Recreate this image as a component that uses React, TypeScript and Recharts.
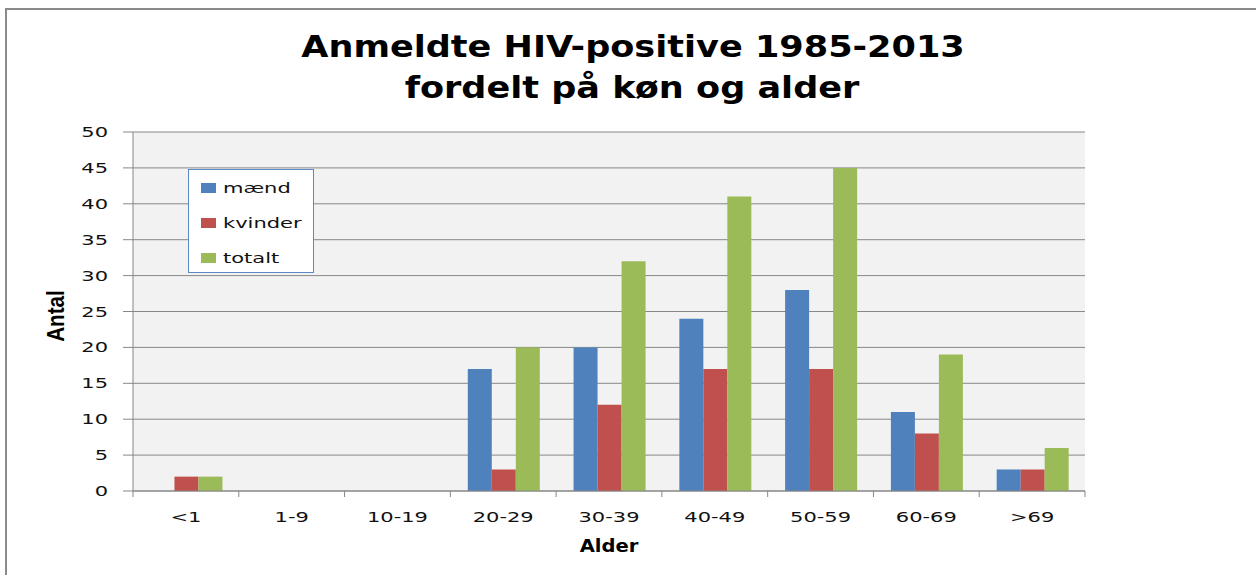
import React from 'react';
import { BarChart, Bar, XAxis, YAxis, CartesianGrid, Legend } from 'recharts';

const categories = ['<1', '1-9', '10-19', '20-29', '30-39', '40-49', '50-59', '60-69', '>69'];
const maend = [0, 0, 0, 17, 20, 24, 28, 11, 3];
const kvinder = [2, 0, 0, 3, 12, 17, 17, 8, 3];
const totalt = [2, 0, 0, 20, 32, 41, 45, 19, 6];
const yTicks = [0, 5, 10, 15, 20, 25, 30, 35, 40, 45, 50];
const seriesNames = ['mænd', 'kvinder', 'totalt'];
const seriesKeys = ['maend', 'kvinder', 'totalt'];
const seriesColors = ['#4F81BD', '#C0504D', '#9BBB59'];
const titleLines = ['Anmeldte HIV-positive 1985-2013', 'fordelt på køn og alder'];

const data = categories.map((c, i) => ({
  cat: c,
  maend: maend[i],
  kvinder: kvinder[i],
  totalt: totalt[i],
}));

const FONT = 'DejaVu Sans, Verdana, sans-serif';
const GRID = '#878787';

const YTick = (props: any) => {
  const { x, y, payload } = props;
  return (
    <g transform={`translate(${x},${y})`}>
      <text x={0} y={0} dy="0.36em" textAnchor="end" transform="scale(1.5,1)" fontFamily={FONT} fontSize={14} fill="#111">
        {payload.value}
      </text>
    </g>
  );
};

const XTick = (props: any) => {
  const { x, y, payload, index, visibleTicksCount } = props;
  const off = Number(payload && payload.offset) || 0;
  const isLast = index === visibleTicksCount - 1;
  return (
    <g>
      <line x1={x - off} x2={x - off} y1={y} y2={y + 6} stroke={GRID} strokeWidth={1} />
      {isLast && <line x1={x + off} x2={x + off} y1={y} y2={y + 6} stroke={GRID} strokeWidth={1} />}
      <g transform={`translate(${x},${y})`}>
        <text x={0} y={0} dy={31} textAnchor="middle" transform="scale(1.5,1)" fontFamily={FONT} fontSize={14} fill="#111">
          {payload.value}
        </text>
      </g>
    </g>
  );
};

const LegendBox = () => (
  <div
    style={{
      width: 126,
      height: 104,
      boxSizing: 'border-box',
      border: '1px solid #5A8AC6',
      background: '#fff',
    }}
  >
    {seriesNames.map((n, i) => (
      <div key={n} style={{ height: 35, display: 'flex', alignItems: 'center' }}>
        <div style={{ width: 15, height: 10, marginLeft: 12, background: seriesColors[i] }} />
        <span
          style={{
            marginLeft: 7,
            fontFamily: FONT,
            fontSize: 14,
            color: '#111',
            display: 'inline-block',
            transform: 'scaleX(1.5)',
            transformOrigin: 'left center',
            whiteSpace: 'nowrap',
          }}
        >
          {n}
        </span>
      </div>
    ))}
  </div>
);

export default function App() {
  return (
    <div style={{ position: 'absolute', left: 0, top: 0, width: 1256, height: 575, background: '#fff', overflow: 'hidden' }}>
      <div
        style={{
          position: 'absolute',
          left: 5,
          top: 8,
          width: 1260,
          height: 580,
          borderLeft: '2px solid #8A8A8A',
          borderTop: '2px solid #8A8A8A',
        }}
      />
      <BarChart
        width={1256}
        height={575}
        data={data}
        margin={{ top: 132, right: 171, bottom: 54, left: 0 }}
        barCategoryGap="16.5%"
        barGap={0}
        style={{ position: 'absolute', left: 0, top: 0 }}
      >
        <CartesianGrid vertical={false} stroke={GRID} fill="#F2F2F2" strokeOpacity={1} />
        <XAxis
          dataKey="cat"
          height={30}
          axisLine={{ stroke: GRID }}
          tickLine={false}
          tickSize={0}
          tickMargin={0}
          interval={0}
          tick={<XTick />}
        />
        <YAxis
          width={133}
          domain={[0, 50]}
          ticks={yTicks}
          interval={0}
          tickSize={10}
          tickMargin={15}
          axisLine={{ stroke: GRID }}
          tickLine={{ stroke: GRID }}
          tick={<YTick />}
        />
        <Legend
          layout="vertical"
          align="center"
          verticalAlign="middle"
          content={<LegendBox />}
          wrapperStyle={{ left: 188, top: 169, width: 126, height: 104 }}
        />
        {seriesKeys.map((k, i) => (
          <Bar key={k} dataKey={k} name={seriesNames[i]} fill={seriesColors[i]} isAnimationActive={false} />
        ))}
      </BarChart>
      <svg width={1256} height={575} style={{ position: 'absolute', left: 0, top: 0, pointerEvents: 'none' }}>
        <text transform="translate(633,57) scale(1.17,1)" textAnchor="middle" fontFamily={FONT} fontWeight="bold" fontSize={30} fill="#000">
          {titleLines[0]}
        </text>
        <text transform="translate(632,98) scale(1.17,1)" textAnchor="middle" fontFamily={FONT} fontWeight="bold" fontSize={30} fill="#000">
          {titleLines[1]}
        </text>
        <text transform="translate(609,552) scale(1.15,1)" textAnchor="middle" fontFamily={FONT} fontWeight="bold" fontSize={17} fill="#000">
          Alder
        </text>
        <text
          transform="translate(64,316) rotate(-90) scale(0.9,1)"
          textAnchor="middle"
          fontFamily="Liberation Sans, Arial, sans-serif"
          fontWeight="bold"
          fontSize={23}
          fill="#000"
        >
          Antal
        </text>
      </svg>
    </div>
  );
}
